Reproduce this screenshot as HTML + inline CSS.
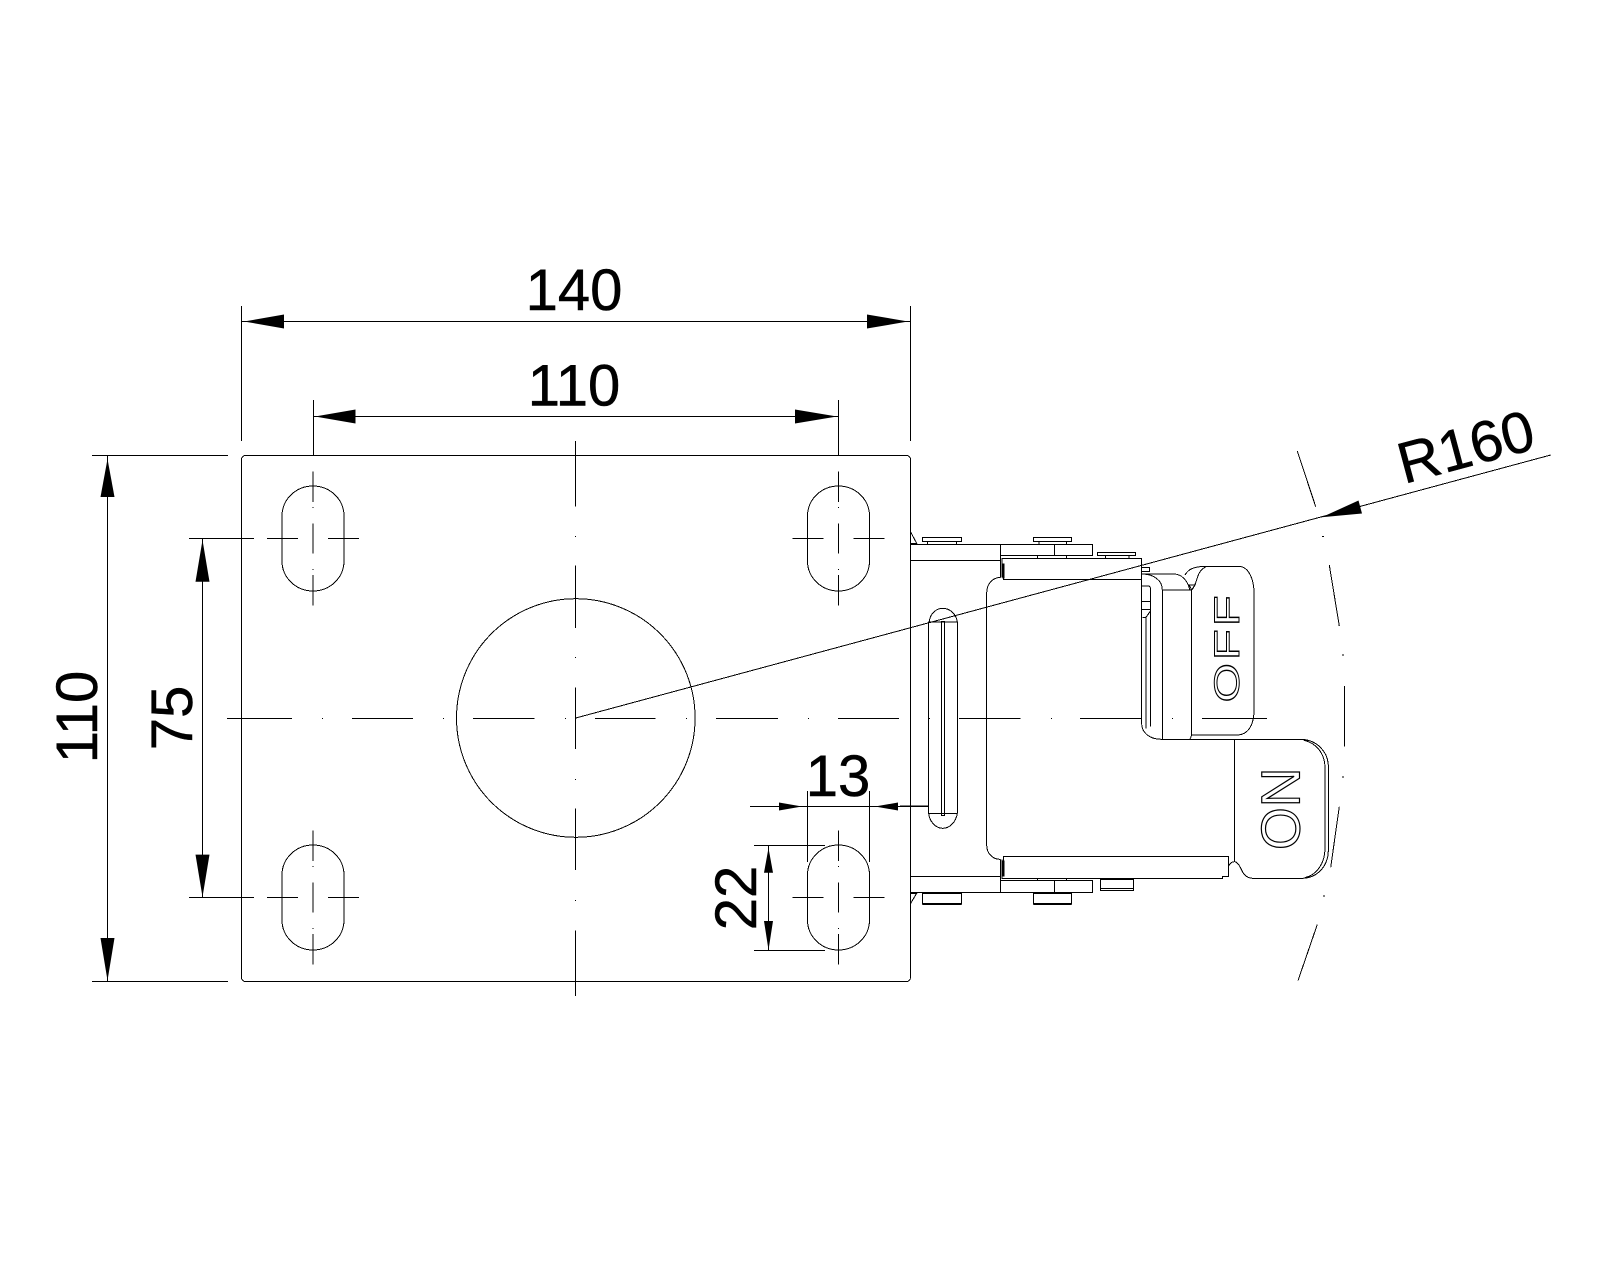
<!DOCTYPE html>
<html>
<head>
<meta charset="utf-8">
<style>
html,body{margin:0;padding:0;background:#fff;width:1600px;height:1280px;overflow:hidden}
svg{display:block}
text{font-family:"Liberation Sans",sans-serif;fill:#000}
.d{stroke:#000;stroke-width:0.5px}
</style>
</head>
<body>
<svg width="1600" height="1280" viewBox="0 0 1600 1280" xmlns="http://www.w3.org/2000/svg">
<defs>
<g id="hole" fill="none" stroke="#000" stroke-width="1" shape-rendering="crispEdges">
  <rect x="-31" y="-52.5" width="62" height="105" rx="31" ry="30"/>
  <path d="M0 -67V-36.5M0 -31.5V-30.5M0 -15V15M0 30.5V31.5M0 36.5V67M-46 0H-15M-0.5 0H0.5M15 0H46"/>
</g>
</defs>
<rect width="1600" height="1280" fill="#fff"/>

<g fill="none" stroke="#000" stroke-width="1" shape-rendering="crispEdges">
  <!-- plate -->
  <rect x="241.5" y="455.5" width="669" height="526" rx="4" ry="4"/>
  <!-- main hole -->
  <circle cx="575.8" cy="718" r="119.3"/>
  <!-- centre lines -->
  <path d="M227 718.5H292M322 718.5H323M352 718.5H413M443 718.5H444M473 718.5H534.7M565 718.5H566M595 718.5H655.6M686 718.5H687M716 718.5H778M808 718.5H809M838 718.5H899M929 718.5H930M959 718.5H1020.7M1051 718.5H1052M1080 718.5H1141.7M1172 718.5H1173M1202 718.5H1267"/>
  <path d="M575.5 441V506.6M575.5 536V537M575.5 565.7V627.8M575.5 657V658M575.5 687.4V749M575.5 779V780M575.5 808.6V870M575.5 900V901M575.5 930.7V996"/>
  <!-- extension lines -->
  <path d="M241.5 306V441M910.5 306V441M313.5 400V456M838.5 400V456"/>
  <path d="M92 455.5H228M92 981.5H228"/>
  <path d="M189 538.5H254M189 897.5H254"/>
  <path d="M807.5 791V862M869.5 791V862M754 845.5H825M754 950.5H825"/>
  <!-- dim lines -->
  <path d="M241.5 321.5H910.5M313.5 416.5H838.5M107.5 455.5V981.5M202.5 538.5V897.5M750 806.5H928M768.5 845.5V950.5"/>
  <!-- leader -->
  <path d="M575.8 718L1550.7 455"/>
  <!-- R160 arc -->
  <path d="M1297.3 451L1315.7 506.7M1322 536.3H1324M1329.3 565L1339.3 626M1342 655H1344M1344.5 686V746.7M1342 777H1344M1339.3 806.7L1330.7 867.3M1323 896H1325M1317.3 924.5L1298 980.6"/>
</g>

<use href="#hole" x="313" y="538.5"/>
<use href="#hole" x="838.5" y="538.5"/>
<use href="#hole" x="313" y="897.5"/>
<use href="#hole" x="838.5" y="897.5"/>

<!-- arrowheads -->
<g fill="#000" stroke="none">
  <polygon points="244,321.5 284,314.5 284,328.5"/>
  <polygon points="908,321.5 867,314.5 867,328.5"/>
  <polygon points="315,416.5 355.5,409.5 355.5,423.5"/>
  <polygon points="837,416.5 795,409.5 795,423.5"/>
  <polygon points="107.5,459 100.5,497 114.5,497"/>
  <polygon points="107.5,980.5 100.5,938 114.5,938"/>
  <polygon points="202.5,540 195.5,581.7 209.5,581.7"/>
  <polygon points="202.5,897 195.5,854.6 209.5,854.6"/>
  <polygon points="802,806.5 779,802.5 779,810.5"/>
  <polygon points="875,806.5 898,802.5 898,810.5"/>
  <polygon points="768.5,848 764,872.7 773,872.7"/>
  <polygon points="768.5,950 764,921 773,921"/>
  <polygon points="1321.7,517.3 1358.5,500.5 1362,513.5"/>
</g>

<!-- mechanism, drawn in 3x coordinates -->
<g transform="translate(900 500) scale(0.33333)" fill="none" stroke="#000" stroke-width="3" shape-rendering="crispEdges">
  <!-- slot -->
  <path d="M86 365V940M172 365V940M86 366H172M86 940H172"/>
  <path d="M88 365C90 340 110 325 128 325C150 325 168 342 172 365"/>
  <path d="M86 940C88 965 108 985 128 985C150 985 168 965 172 940"/>
  <rect x="124" y="364" width="10" height="582"/>
  <path d="M0 918H86"/>
  <!-- body -->
  <path d="M302 232H300C278 234 260 250 260 280V1035C260 1060 278 1078 300 1078H302"/>
  <!-- top straps -->
  <rect x="32" y="133" width="270" height="48"/>
  <rect x="302" y="133" width="276" height="33"/>
  <path d="M464 133V166M412 166V175M500 166V175"/>
  <rect x="67" y="112" width="118" height="12"/>
  <path d="M82 124V133M170 124V133"/>
  <rect x="400" y="112" width="115" height="12"/>
  <path d="M417 124V133M500 124V133"/>
  <rect x="592" y="157" width="115" height="9"/>
  <path d="M617 166V175M687 166V175"/>
  <path d="M32 96L50 130H32"/>
  <!-- top bracket -->
  <path d="M302 133V232M306 232V175H725V238H310V190"/>
  <path d="M310 190V235" stroke-width="6"/>
  <!-- bottom straps -->
  <rect x="32" y="1130" width="270" height="47"/>
  <rect x="302" y="1141" width="276" height="36"/>
  <path d="M464 1141V1177M412 1135V1141M500 1135V1141"/>
  <rect x="67" y="1180" width="118" height="32"/>
  <rect x="400" y="1180" width="115" height="32"/>
  <path d="M67 1212H185M400 1212H515" stroke-width="6"/>
  <path d="M82 1177V1180M170 1177V1180M417 1177V1180M500 1177V1180"/>
  <rect x="601" y="1138" width="99" height="33"/>
  <path d="M601 1165H700"/>
  <path d="M32 1180H50L32 1210"/>
  <!-- bottom bracket -->
  <path d="M302 1078V1130M306 1078V1135H968V1130H985V1069H310V1130"/>
  <path d="M310 1082V1130" stroke-width="6"/>
  <!-- OFF side -->
  <path d="M725 175V670C725 695 745 718 785 718H1200"/>
  <rect x="725" y="202" width="23" height="13"/>
  <path d="M725 222H820C845 222 862 240 870 270"/>
  <path d="M725 222C760 222 787 240 787 270V718"/>
  <path d="M787 270H875V705L870 718"/>
  <path d="M875 270C895 250 885 215 920 199H1015C1045 199 1062 235 1062 280V630C1062 675 1045 705 1010 705H875"/>
  <path d="M855 225C865 208 880 199 920 199M868 255H885L875 270Z"/>
  <path d="M725 258H745C750 258 752 264 752 270V680M725 305H752M725 328H752M738 350V685M728 352H738L752 332"/>
  <!-- ON side -->
  <path d="M1003 718V1085"/>
  <path d="M1200 718C1250 718 1285 755 1285 800V1050C1285 1100 1250 1135 1205 1135H1060C1040 1135 1030 1122 1025 1110C1018 1095 1010 1085 1003 1085C995 1085 988 1092 985 1100"/>
  <path d="M1210 720C1250 730 1275 760 1275 805V1045C1275 1090 1250 1125 1215 1133"/>
</g>

<!-- dimension labels -->
<text class="d" x="574" y="310" font-size="58" text-anchor="middle">140</text>
<text class="d" x="574" y="405.5" font-size="58" text-anchor="middle">110</text>
<text class="d" font-size="58" text-anchor="middle" transform="translate(97 717) rotate(-90)">110</text>
<text class="d" font-size="58" text-anchor="middle" transform="translate(192 718) rotate(-90)">75</text>
<text class="d" x="838" y="796" font-size="58" text-anchor="middle">13</text>
<text class="d" font-size="58" text-anchor="middle" transform="translate(756 898) rotate(-90)">22</text>
<text class="d" font-size="58" transform="translate(1404 484) rotate(-15)">R160</text>

<!-- outlined labels -->
<text font-size="35" letter-spacing="2" transform="translate(1239 702.5) rotate(-90) scale(1.45 1)" style="fill:#fff;stroke:#000;stroke-width:1px">OFF</text>
<text font-size="55" transform="translate(1299.5 850) rotate(-90)" style="fill:#fff;stroke:#000;stroke-width:1.2px">ON</text>
</svg>
</body>
</html>
